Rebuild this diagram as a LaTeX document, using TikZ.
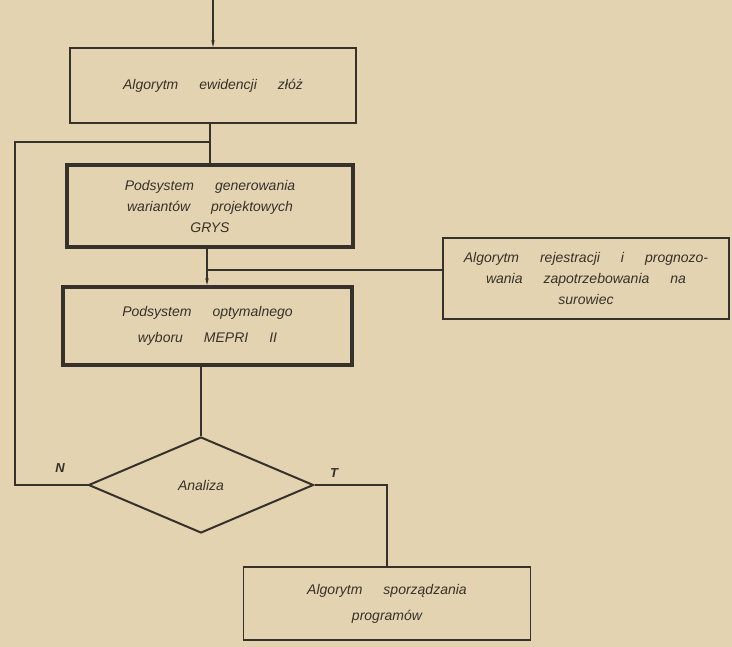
\documentclass[tikz,border=0pt]{standalone}
\usepackage{fontspec}
\setmainfont{Liberation Sans}
\usetikzlibrary{shapes.geometric,arrows.meta}
\definecolor{paper}{RGB}{227,211,176}
\definecolor{ink}{RGB}{55,49,43}
\newcommand\widewords{\spaceskip=1.5em plus 0.2em\relax}
\begin{document}
\begin{tikzpicture}[x=1pt,y=-1pt,
  every node/.style={text=ink,font=\itshape\fontsize{14}{21}\selectfont\widewords},
  box/.style={draw=ink,line width=1.8pt,rectangle,inner sep=2pt,align=center},
  thickbox/.style={draw=ink,line width=4pt,rectangle,inner sep=2pt,align=center},
  dec/.style={draw=ink,line width=2pt,diamond,inner sep=0pt},
  conn/.style={draw=ink,line width=1.1pt},
  arr/.style={conn,-{Stealth[length=7pt,width=3.5pt]}},
  lbl/.style={font=\itshape\bfseries\fontsize{13}{15}\selectfont}]
\fill[paper] (0,0) rectangle (732,647);
\useasboundingbox (0,0) rectangle (732,647);
\node[box,minimum width=286pt,minimum height=75pt] (b1) at (213,85.5) {Algorytm ewidencji złóż};
\node[thickbox,minimum width=286pt,minimum height=82pt] (b2) at (210,206) {Podsystem generowania\\wariantów projektowych\\GRYS};
\node[thickbox,minimum width=289pt,minimum height=78pt] (b3) at (207.5,326) {Podsystem optymalnego\\[5pt]wyboru MEPRI II};
\node[box,minimum width=286pt,minimum height=81pt,inner sep=0pt] (r) at (586,278.5) {Algorytm rejestracji i prognozo-\\wania zapotrzebowania na\\surowiec};
\node[dec,minimum width=225pt,minimum height=96pt] (d) at (201,485) {Analiza};
\node[box,minimum width=287pt,minimum height=73pt] (b4) at (387,603.5) {Algorytm sporządzania\\[5pt]programów};
\coordinate (top) at (213,0);
\coordinate (j1) at (210,142);
\coordinate (j2) at (207,270);
\coordinate (lc) at (15,485);
\node[lbl] (nN) at (60,468) {N};
\node[lbl] (nT) at (334,473) {T};
\draw[arr] (top) -- (b1.north);
\draw[conn] (j1 |- b1.south) -- (j1) -- (j1 |- b2.north);
\draw[conn] (d.west) -- (lc) |- (j1);
\draw[arr] (j2 |- b2.south) -- (j2 |- b3.north);
\draw[conn] (j2) -- (j2 -| r.west);
\draw[conn] (d.north |- b3.south) -- (d.north);
\draw[conn] (d.east) -| (b4.north);
\end{tikzpicture}
\end{document}
